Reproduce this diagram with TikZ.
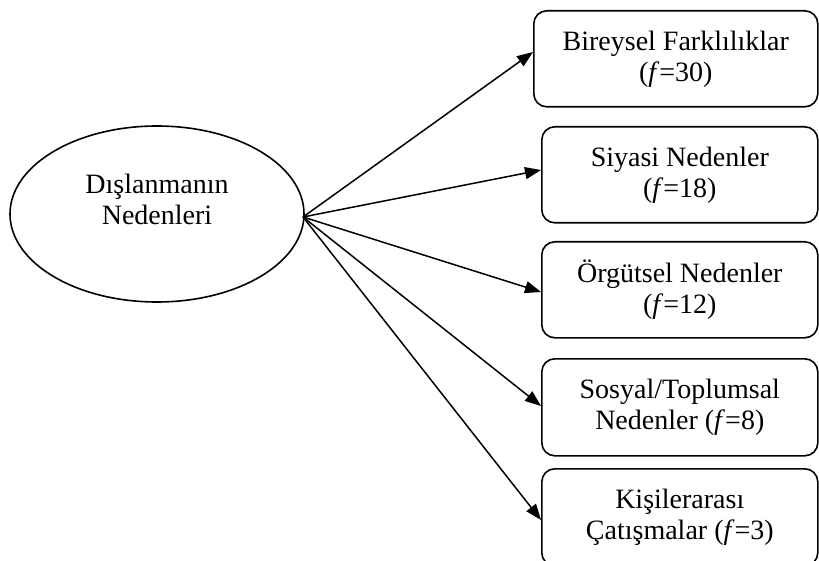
\documentclass[tikz,border=0pt]{standalone}
\usepackage{fontspec}
\setmainfont{Liberation Serif}
\usetikzlibrary{shapes.geometric,arrows.meta}
\begin{document}
\begin{tikzpicture}[x=1pt,y=-1pt,
  txt/.style={align=center,font=\fontsize{28}{31}\selectfont,inner sep=0pt},
  box/.style={draw,line width=1.6pt,rounded corners=13pt,minimum width=276pt,minimum height=96pt,txt,anchor=north west},
  conn/.style={line width=1.5pt,-{Triangle[length=16pt,width=12pt]}}]
\useasboundingbox (0,0) rectangle (819,561);
\node[draw,ellipse,line width=1.6pt,minimum width=294pt,minimum height=176pt,inner sep=0pt] (e) at (157,214) {};
\node[txt] (et) at (157,199) {Dışlanmanın\\Nedenleri};
\node[box,minimum width=284pt] (b1) at (533,10) {Bireysel Farklılıklar\\(\textit{f}=30)};
\node[box] (b2) at (541,126) {Siyasi Nedenler\\(\textit{f}=18)};
\node[box] (b3) at (541,241) {Örgütsel Nedenler\\(\textit{f}=12)};
\node[box,minimum height=97pt] (b4) at (541,358) {Sosyal/Toplumsal\\Nedenler (\textit{f}=8)};
\node[box,minimum height=97pt] (b5) at (541,468) {Kişilerarası\\Çatışmalar (\textit{f}=3)};
\coordinate (o) at (303,217);
\draw[conn] (o) -- (b1.west |- 0,52);
\draw[conn] (o) -- (b2.west |- 0,170);
\draw[conn] (o) -- (b3.west |- 0,292);
\draw[conn] (o) -- (b4.west |- 0,406);
\draw[conn] (o) -- (b5.west |- 0,520);
\end{tikzpicture}
\end{document}
